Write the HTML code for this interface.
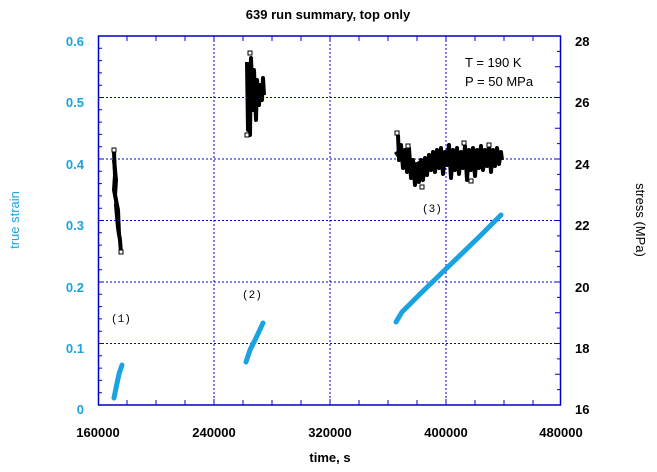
<!DOCTYPE html>
<html><head><style>
body{margin:0;background:#fff;}
svg{display:block;font-family:"Liberation Sans",sans-serif;}
</style></head><body>
<svg width="657" height="472" viewBox="0 0 657 472" xmlns="http://www.w3.org/2000/svg">
<rect width="657" height="472" fill="#fff"/>
<text x="328" y="19" text-anchor="middle" font-size="13" font-weight="bold">639 run summary, top only</text>
<g stroke="#0000cc" stroke-width="1" stroke-dasharray="2,2">
<line x1="98" y1="97.5" x2="561" y2="97.5"/><line x1="98" y1="159" x2="561" y2="159"/>
<line x1="98" y1="220.5" x2="561" y2="220.5"/><line x1="98" y1="282" x2="561" y2="282"/>
<line x1="98" y1="343.5" x2="561" y2="343.5"/>
<line x1="214" y1="36" x2="214" y2="405"/><line x1="330" y1="36" x2="330" y2="405"/><line x1="446" y1="36" x2="446" y2="405"/>
</g>
<rect x="98.5" y="36" width="462" height="369" fill="none" stroke="#0000cc" stroke-width="1.5"/>
<g stroke="#0000cc" stroke-width="1">
<path d="M98 36h6M98 48.3h4M98 60.6h4M98 72.9h4M98 85.2h4M98 97.5h6M98 109.8h4M98 122.1h4M98 134.4h4M98 146.7h4M98 159h6M98 171.3h4M98 183.6h4M98 195.9h4M98 208.2h4M98 220.5h6M98 232.8h4M98 245.1h4M98 257.4h4M98 269.7h4M98 282h6M98 294.3h4M98 306.6h4M98 318.9h4M98 331.2h4M98 343.5h6M98 355.8h4M98 368.1h4M98 380.4h4M98 392.7h4"/>
<path d="M561 66.75h-6M561 97.5h-6M561 128.25h-6M561 159h-6M561 189.75h-6M561 220.5h-6M561 251.25h-6M561 282h-6M561 312.75h-6M561 343.5h-6M561 374.25h-6M561 51.4h-4M561 82.1h-4M561 112.9h-4M561 143.6h-4M561 174.4h-4M561 205.1h-4M561 235.9h-4M561 266.6h-4M561 297.4h-4M561 328.1h-4M561 358.9h-4M561 389.6h-4"/>
<path d="M127 36v5M156 36v5M185 36v5M214 36v6M243 36v5M272 36v5M301 36v5M330 36v6M359 36v5M388 36v5M417 36v5M446 36v6M475 36v5M504 36v5M533 36v5"/>
<path d="M127 405v-5M156 405v-5M185 405v-5M214 405v-6M243 405v-5M272 405v-5M301 405v-5M330 405v-6M359 405v-5M388 405v-5M417 405v-5M446 405v-6M475 405v-5M504 405v-5M533 405v-5"/>
</g>
<g fill="#1aa3e0" font-size="13" font-weight="bold" text-anchor="end">
<text x="84" y="46">0.6</text><text x="84" y="107">0.5</text><text x="84" y="169">0.4</text><text x="84" y="230">0.3</text><text x="84" y="292">0.2</text><text x="84" y="353">0.1</text><text x="84" y="414">0</text>
</g>
<g font-size="13" font-weight="bold" text-anchor="start">
<text x="575" y="46">28</text><text x="575" y="107">26</text><text x="575" y="169">24</text><text x="575" y="230">22</text><text x="575" y="292">20</text><text x="575" y="353">18</text><text x="575" y="414">16</text>
</g>
<g font-size="13" font-weight="bold" text-anchor="middle">
<text x="98" y="437">160000</text><text x="214" y="437">240000</text><text x="330" y="437">320000</text><text x="446" y="437">400000</text><text x="561" y="437">480000</text>
<text x="330" y="462">time, s</text>
</g>
<text transform="translate(19 220) rotate(-90)" text-anchor="middle" font-size="13" fill="#1aa3e0">true strain</text>
<text transform="translate(636 220) rotate(90)" text-anchor="middle" font-size="13">stress (MPa)</text>
<text x="465" y="67" font-size="13">T = 190 K</text>
<text x="465" y="86" font-size="13">P = 50 MPa</text>
<g font-family="Liberation Mono,monospace" font-size="11">
<text x="111" y="322">(1)</text><text x="242" y="298">(2)</text><text x="422" y="212">(3)</text>
</g>
<g stroke="#1aa3e0" stroke-width="5" fill="none" stroke-linecap="round">
<path d="M114 398 L116 388 L119 374 L122 365"/>
<path d="M246 362 L250 350 L256 338 L263 323"/>
<path d="M396 322 L402 312 L420 294 L450 265 L480 236 L501 215"/>
</g>
<g stroke="#000" fill="none" stroke-width="4" stroke-linejoin="round">
<path d="M114 152 L115 175 L114 190 L116 200 L117 215 L116 205 L118 228 L120 240 L121 253"/>
<path d="M114 160 L116 180 L115 195 L118 210 L119 235"/>
<path d="M247 62 L248 130 L249 75 L250 135 L251 58 L253 110 L254 70 L256 120 L257 80 L259 105 L260 85 L262 100 L263 78 L264 95"/>
<path d="M398 135 L399 160 L401 145 L403 168 L405 150 L407 172 L409 148 L411 178 L413 160 L415 185 L417 165 L419 182 L421 160 L423 180 L425 158 L427 175 L429 155 L431 170 L433 152 L435 172 L437 150 L439 168 L441 148 L443 174 L445 152 L447 165 L449 145 L451 178 L453 150 L455 170 L457 148 L459 174 L461 152 L463 168 L465 146 L467 180 L469 150 L471 170 L473 148 L475 176 L477 150 L479 168 L481 146 L483 170 L485 150 L487 166 L489 146 L491 172 L493 150 L495 166 L497 148 L499 164 L501 152 L502 160"/>
<path d="M398 150 L404 158 L410 165 L416 168 L422 165 L430 162 L440 160 L450 160 L460 160 L470 158 L480 158 L490 160 L500 158" stroke-width="10"/>
</g>
<g fill="#fff" stroke="#000" stroke-width="1">
<rect x="112" y="148" width="4" height="4"/><rect x="119" y="250" width="4" height="4"/>
<rect x="248" y="51" width="4" height="4"/><rect x="245" y="133" width="4" height="4"/>
<rect x="395" y="131" width="4" height="4"/><rect x="406" y="144" width="4" height="4"/><rect x="420" y="185" width="4" height="4"/><rect x="462" y="141" width="4" height="4"/><rect x="487" y="143" width="4" height="4"/><rect x="469" y="179" width="4" height="4"/>
</g>
</svg>
</body></html>
